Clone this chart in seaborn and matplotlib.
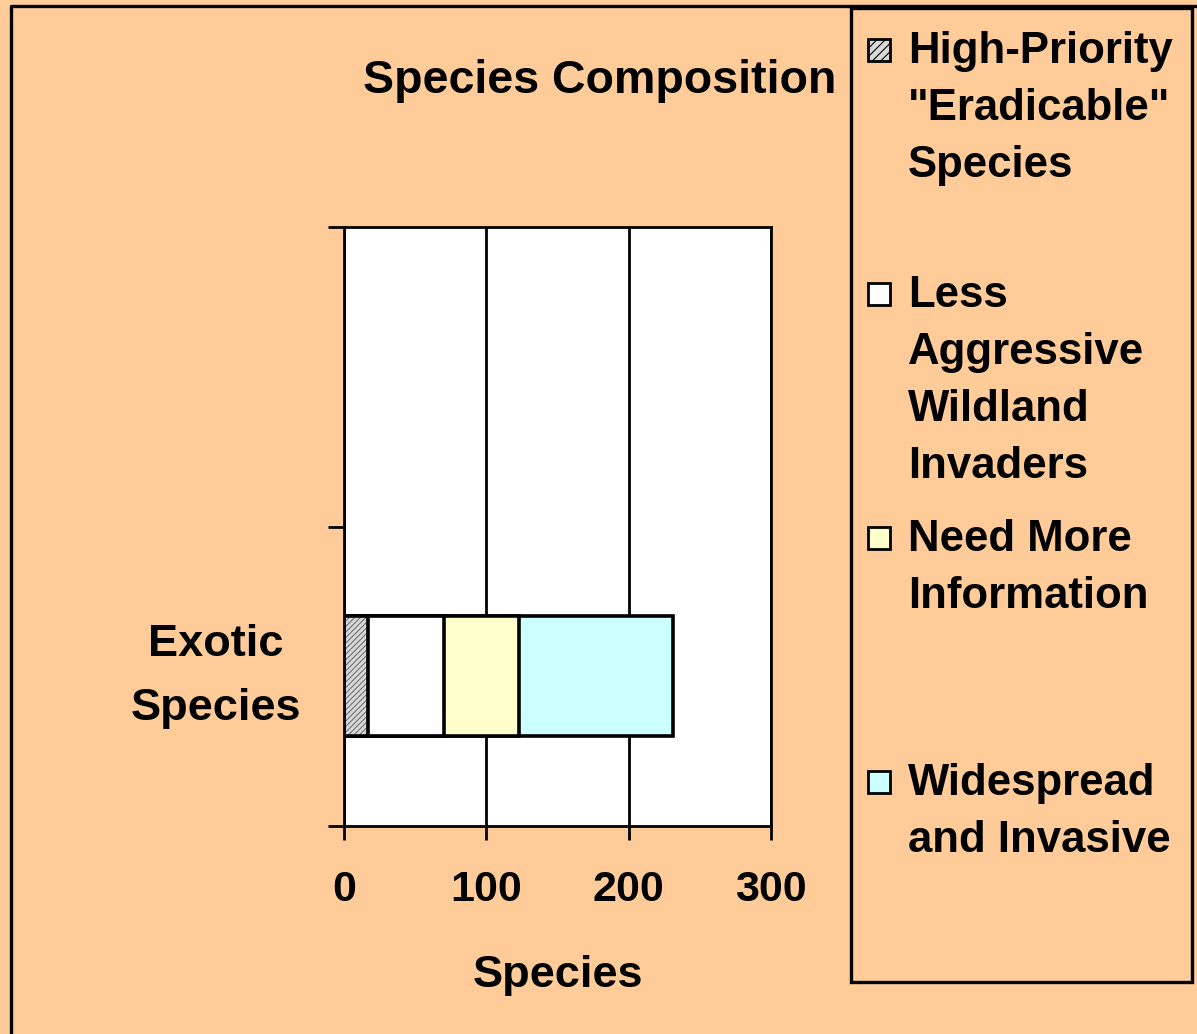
# --Libraries--
import numpy as np
import pandas as pd
import matplotlib
matplotlib.use("Agg")
import matplotlib.pyplot as plt
import matplotlib.patches as mpatches
from matplotlib.legend_handler import HandlerPatch
import seaborn as sns

# --Data--
row_labels = [" ", "Exotic Species"]  # first band is empty in the original
groups = ['High-Priority "Eradicable" Species',
          "Less Aggressive Wildland Invaders",
          "Need More Information",
          "Widespread and Invasive"]
legend_labels = ['High-Priority\n"Eradicable"\nSpecies\n',
                 "Less\nAggressive\nWildland\nInvaders",
                 "Need More\nInformation\n\n",
                 "Widespread\nand Invasive\n\n"]
counts = [17, 53, 53, 108]
x_ticks = [0, 100, 200, 300]

colors = ["#D9D9D9", "#FFFFFF", "#FFFFCC", "#CCFFFF"]

# -cumulative ends of each stacked segment
ends = np.cumsum(counts)

W, H = 1197, 1034
sns.set_style("white")
plt.rcParams["font.family"] = ["Liberation Sans", "DejaVu Sans"]
plt.rcParams["font.weight"] = "bold"
plt.rcParams["text.color"] = "black"
plt.rcParams["axes.labelcolor"] = "black"
plt.rcParams["xtick.color"] = "black"
plt.rcParams["ytick.color"] = "black"
plt.rcParams["hatch.linewidth"] = 0.8

fig = plt.figure(figsize=(W / 100, H / 100), dpi=100, facecolor="#FFCC99")
ax = fig.add_axes([344 / W, 1 - 826 / H, 427 / W, 599 / H])
ax.set_facecolor("white")

# -stacked bar: draw the longest cumulative first, shorter ones on top
for i in range(len(counts) - 1, -1, -1):
    df = pd.DataFrame({"row": ["Exotic Species"], "value": [ends[i]]})
    if i == 0:
        sns.barplot(data=df, x="value", y="row", order=row_labels, orient="h",
                    width=0.4, color=colors[0], saturation=1, errorbar=None,
                    edgecolor="#707070", linewidth=0, hatch="//////", ax=ax)
        sns.barplot(data=df, x="value", y="row", order=row_labels, orient="h",
                    width=0.4, color="black", saturation=1, errorbar=None,
                    fill=False, linewidth=2.6, ax=ax)
    else:
        sns.barplot(data=df, x="value", y="row", order=row_labels, orient="h",
                    width=0.4, color=colors[i], saturation=1, errorbar=None,
                    edgecolor="black", linewidth=2.6, ax=ax)

# -axes styling
ax.set_xlim(0, 300)
ax.set_ylim(1.5, -0.5)
ax.set_xticks(x_ticks)
ax.set_xticklabels([str(t) for t in x_ticks], fontsize=31, fontweight="bold")
ax.set_yticks([-0.5, 0.5, 1.5], labels=["", "", ""])
ax.set_yticks([1], labels=["Exotic\nSpecies"], minor=True)
for t in ax.get_yminorticklabels():
    t.set_fontsize(32.5)
    t.set_fontweight("bold")
    t.set_multialignment("center")
    t.set_verticalalignment("center")
    t.set_linespacing(1.73)
ax.tick_params(axis="x", which="major", direction="out", length=10, width=2,
               pad=22, bottom=True, color="black")
ax.tick_params(axis="y", which="major", direction="out", length=11.5, width=2,
               left=True, color="black")
ax.tick_params(axis="y", which="minor", length=0, pad=31)
ax.set_xlabel("Species", fontsize=32.5, fontweight="bold", labelpad=32)
ax.set_ylabel("")
ax.xaxis.grid(True, color="black", linewidth=2)
ax.yaxis.grid(False)
ax.set_axisbelow(True)
for s in ax.spines.values():
    s.set_visible(True)
    s.set_color("black")
    s.set_linewidth(2)

fig.text(600 / W, 1 - 81 / H, "Species Composition", ha="center", va="center",
         fontsize=33.5, fontweight="bold")

# -legend: square marker on the first line of each entry
def square_top(legend, orig_handle, xdescent, ydescent, width, height, fontsize):
    s = 15.5
    return mpatches.Rectangle((-xdescent, -ydescent + height / 2 - s / 2 + 63),
                              s, s)

handles = [mpatches.Patch(facecolor=colors[i], edgecolor="black", linewidth=2,
                          hatch="////" if i == 0 else None)
           for i in range(len(groups))]
leg = fig.legend(handles, legend_labels, loc="upper left",
                 bbox_to_anchor=(868 / W, 1 - 31 / H), frameon=False,
                 prop={"family": "Liberation Sans", "weight": "bold", "size": 31.5},
                 handlelength=0.5, handletextpad=0.41, labelspacing=0.73,
                 borderpad=0, borderaxespad=0,
                 handler_map={mpatches.Patch: HandlerPatch(patch_func=square_top)})
for t in leg.get_texts():
    t.set_linespacing(1.50)

# -legend frame and outer chart frame
fig.add_artist(mpatches.Rectangle((851 / W, 1 - 982 / H), (1192 - 851) / W,
                                  (982 - 8) / H, fill=False, edgecolor="black",
                                  linewidth=2.4, transform=fig.transFigure))
fig.add_artist(plt.Line2D([11 / W, 11 / W, 1.01], [-0.01, 1 - 6 / H, 1 - 6 / H],
                          color="black", linewidth=2.4, transform=fig.transFigure))

fig.savefig("out.png", dpi=100, facecolor=fig.get_facecolor())
